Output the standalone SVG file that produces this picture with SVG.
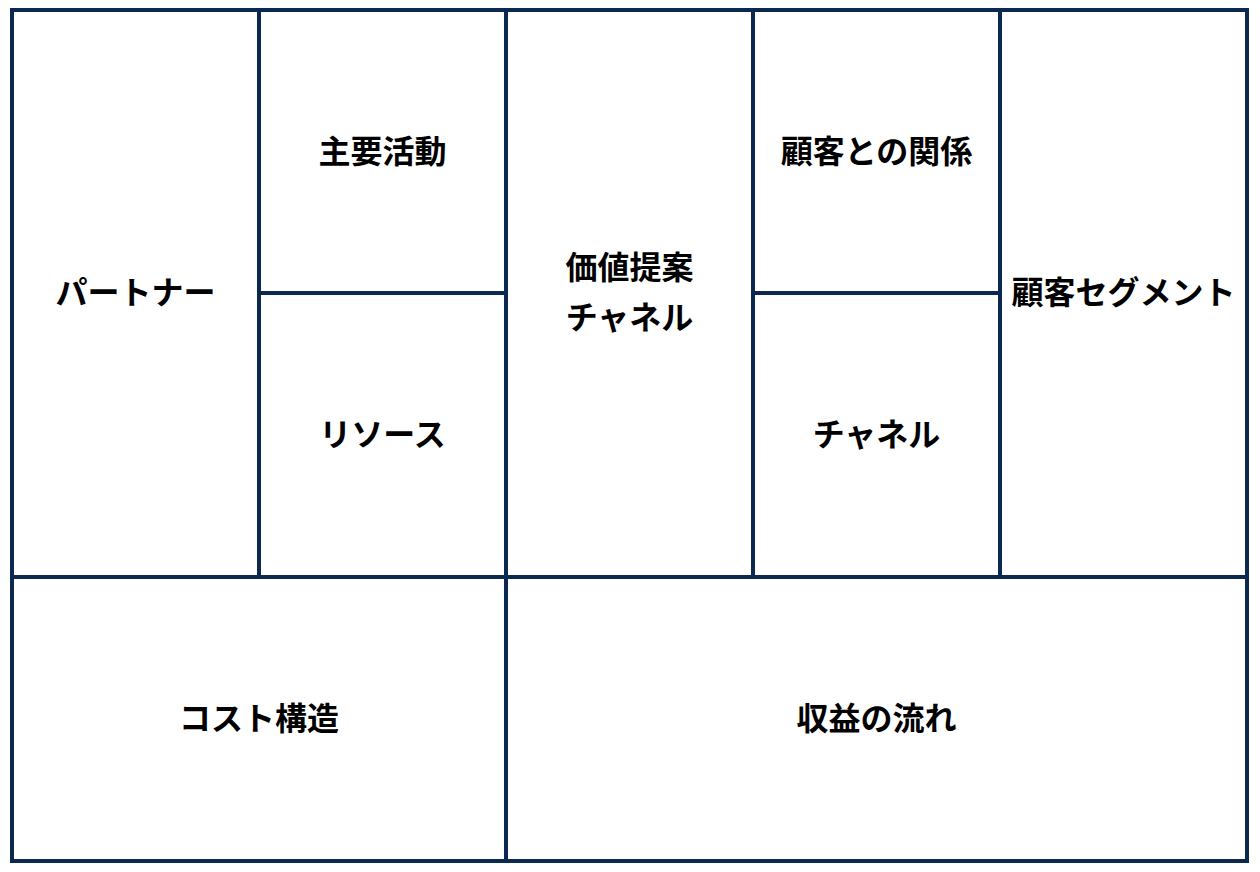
<svg xmlns="http://www.w3.org/2000/svg" width="1260" height="872" viewBox="0 0 1260 872">
<style>
.cell{fill:#ffffff;stroke:#0b2850;stroke-width:4}
.lbl{font-family:"Noto Sans CJK JP","Noto Sans",sans-serif;font-weight:bold;font-size:32px;fill:#000000;text-anchor:middle;dominant-baseline:central}
</style>
<rect x="0" y="0" width="1260" height="872" fill="#ffffff"/>
<g id="partners"><rect class="cell" x="12" y="10" width="247" height="567"/><text class="lbl" x="135.5" y="290">パートナー</text></g>
<g id="activities"><rect class="cell" x="259" y="10" width="247" height="283"/><text class="lbl" x="382.5" y="148.5">主要活動</text></g>
<g id="resources"><rect class="cell" x="259" y="293" width="247" height="284"/><text class="lbl" x="382.5" y="432">リソース</text></g>
<g id="value"><rect class="cell" x="506" y="10" width="247" height="567"/><text class="lbl" x="629.5" y="265">価値提案</text><text class="lbl" x="629.5" y="315">チャネル</text></g>
<g id="relationships"><rect class="cell" x="753" y="10" width="247" height="283"/><text class="lbl" x="876.5" y="148.5">顧客との関係</text></g>
<g id="channels"><rect class="cell" x="753" y="293" width="247" height="284"/><text class="lbl" x="876.5" y="432">チャネル</text></g>
<g id="segments"><rect class="cell" x="1000" y="10" width="247" height="567"/><text class="lbl" x="1123.5" y="290">顧客セグメント</text></g>
<g id="cost"><rect class="cell" x="12" y="577" width="494" height="284"/><text class="lbl" x="259" y="716">コスト構造</text></g>
<g id="revenue"><rect class="cell" x="506" y="577" width="741" height="284"/><text class="lbl" x="876.5" y="716">収益の流れ</text></g>
<g id="connectors"></g>
</svg>
